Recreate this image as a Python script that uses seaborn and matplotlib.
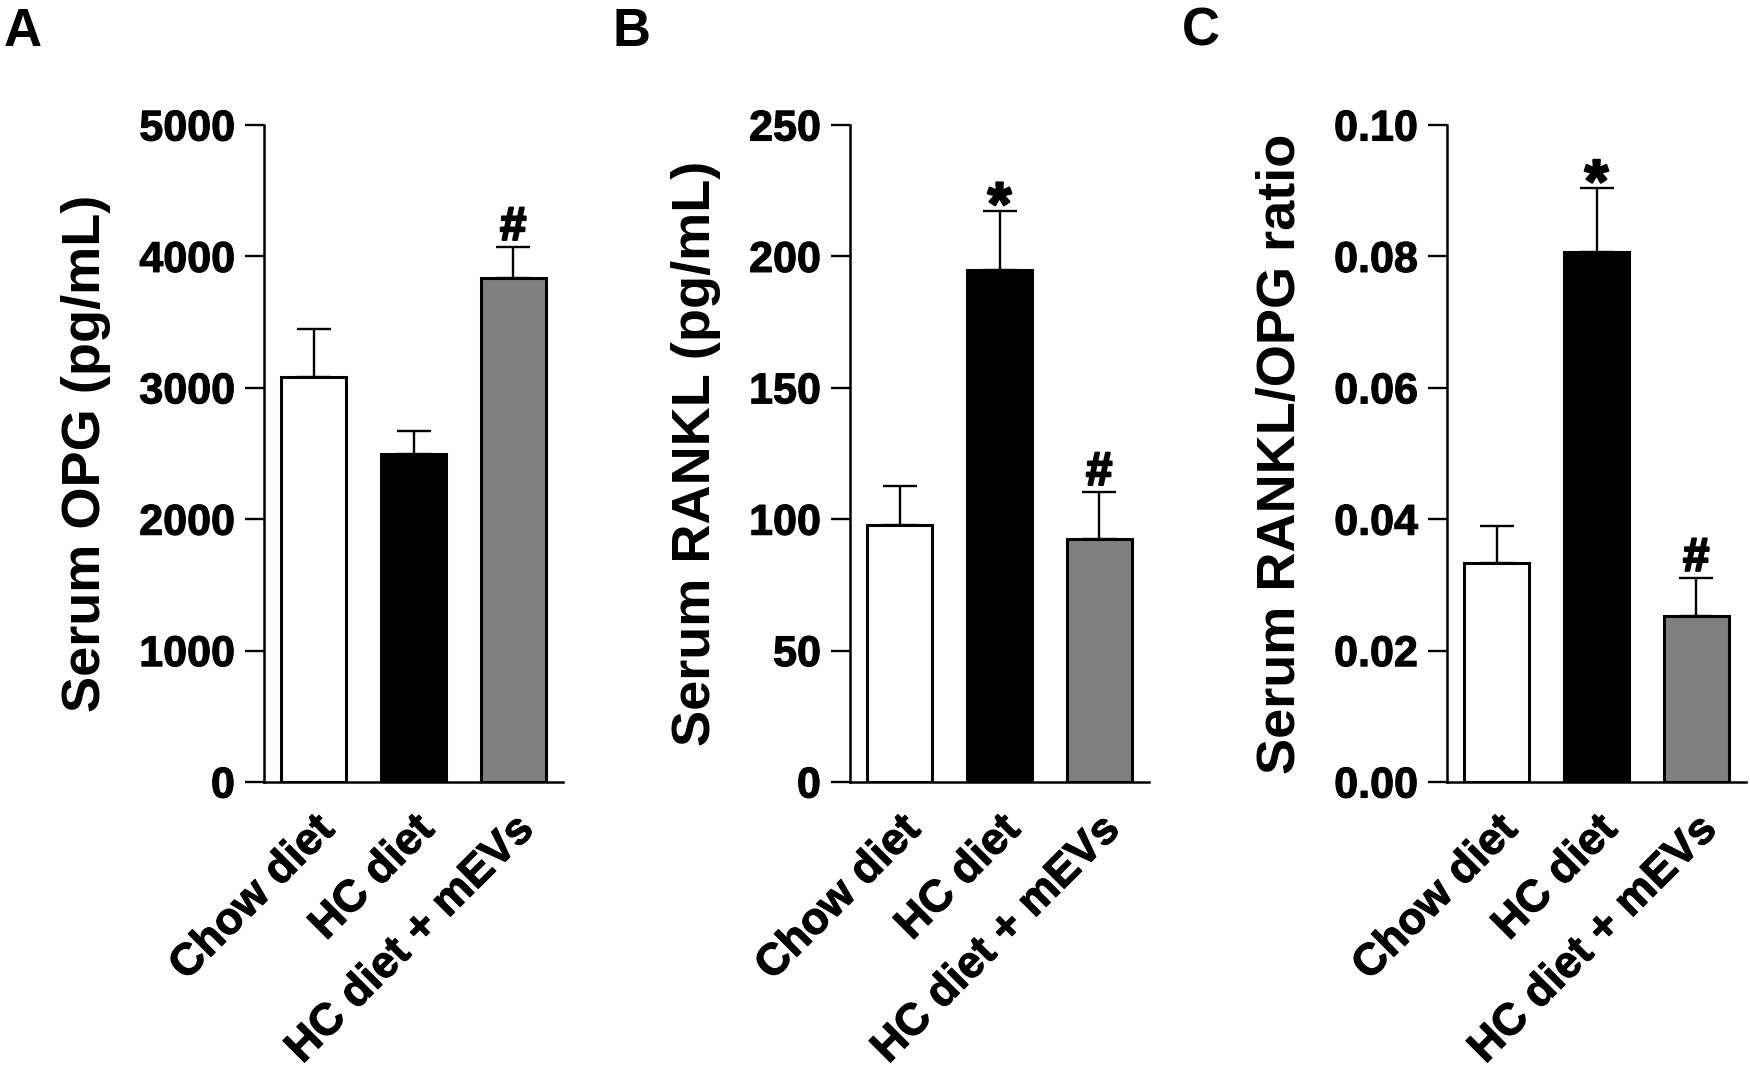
"""
Serum OPG, RANKL and the RANKL/OPG ratio for the three diet groups.

"""
import seaborn as sns
import matplotlib.pyplot as plt
import matplotlib.transforms as mtransforms
import matplotlib.patheffects as pe
import pandas as pd

GROUPS = ['Chow diet', 'HC diet', 'HC diet + mEVs']
COLOURS = ['#ffffff', '#000000', '#808080']

OPG_MEAN = [3080, 2495, 3838]
OPG_SEM = [366, 174, 235]
OPG_MARKS = ['', '', '#']
OPG_TICKS = [0, 1000, 2000, 3000, 4000, 5000]

RANKL_MEAN = [97.7, 195.0, 92.6]
RANKL_SEM = [14.9, 22.4, 17.8]
RANKL_MARKS = ['', '*', '#']
RANKL_TICKS = [0, 50, 100, 150, 200, 250]

RATIO_MEAN = [0.0333, 0.0806, 0.0252]
RATIO_SEM = [0.0057, 0.0098, 0.0059]
RATIO_MARKS = ['', '*', '#']
RATIO_TICKS = [0.00, 0.02, 0.04, 0.06, 0.08, 0.10]


def plot_panel(ax, means, sems, marks, ticks, fmt, y_label):
    """
    Draw one bar panel with upward error bars and significance marks.

    """
    data = pd.DataFrame({'group': GROUPS, 'value': means})
    sns.barplot(data=data, x='group', y='value', hue='group', palette=COLOURS,
                saturation=1, width=0.65, edgecolor='black', linewidth=2.2,
                errorbar=None, legend=False, ax=ax)

    x = list(range(len(GROUPS)))
    ax.errorbar(x, means, yerr=[[0] * len(means), sems], fmt='none',
                ecolor='black', elinewidth=1.7, capsize=12, capthick=1.7)

    heavy = [pe.withStroke(linewidth=1.6, foreground='black')]
    for i, mark in enumerate(marks):
        if not mark:
            continue
        offset = 5 if mark == '#' else -10
        size = 34 if mark == '#' else 44
        ax.annotate(mark, xy=(i, means[i] + sems[i]), xytext=(0, offset),
                    textcoords='offset points', ha='center', va='baseline',
                    fontsize=size, fontweight='bold', annotation_clip=False,
                    path_effects=heavy)

    ax.set_xlim(-0.5, 2.5)
    ax.set_ylim(ticks[0], ticks[-1])
    ax.set_yticks(ticks, [fmt.format(t) for t in ticks])
    ax.set_xticks(x, GROUPS, rotation=45, ha='right', rotation_mode='anchor')
    shift = mtransforms.ScaledTranslation(10 / 100, 0, ax.figure.dpi_scale_trans)
    for label in ax.get_xticklabels():
        label.set_transform(label.get_transform() + shift)
        label.set_path_effects([pe.withStroke(linewidth=0.8, foreground='black')])
    for label in ax.get_yticklabels():
        label.set_path_effects([pe.withStroke(linewidth=0.8, foreground='black')])

    ax.set_xlabel('')
    ax.set_ylabel(y_label, fontsize=39, fontweight='bold', labelpad=20)
    ax.tick_params(axis='y', length=14, width=1.7, pad=7, labelsize=31,
                   color='black', labelcolor='black')
    ax.tick_params(axis='x', length=0, pad=19, labelsize=32,
                   labelcolor='black')
    for side in ['left', 'bottom']:
        ax.spines[side].set_linewidth(1.8)
        ax.spines[side].set_color('black')
    sns.despine(ax=ax)


if __name__ == '__main__':

    sns.set_style('ticks')
    plt.rcParams['font.family'] = ['Liberation Sans', 'DejaVu Sans']
    plt.rcParams['font.weight'] = 'bold'
    plt.rcParams['text.color'] = 'black'
    plt.rcParams['axes.labelcolor'] = 'black'

    fig = plt.figure(figsize=(17.5, 10.69), dpi=100)

    bottom = 1 - 782 / 1069
    height = (782 - 125) / 1069
    ax_a = fig.add_axes([264 / 1750, bottom, 299 / 1750, height])
    ax_b = fig.add_axes([850 / 1750, bottom, 299 / 1750, height])
    ax_c = fig.add_axes([1447 / 1750, bottom, 299 / 1750, height])

    plot_panel(ax_a, OPG_MEAN, OPG_SEM, OPG_MARKS, OPG_TICKS, '{:d}',
               'Serum OPG (pg/mL)')
    plot_panel(ax_b, RANKL_MEAN, RANKL_SEM, RANKL_MARKS, RANKL_TICKS, '{:d}',
               'Serum RANKL (pg/mL)')
    plot_panel(ax_c, RATIO_MEAN, RATIO_SEM, RATIO_MARKS, RATIO_TICKS, '{:.2f}',
               'Serum RANKL/OPG ratio')

    for letter, xpos in zip(['A', 'B', 'C'], [4, 612, 1182]):
        fig.text(xpos / 1750, 1 - 46 / 1069, letter, fontsize=38,
                 fontweight='bold', va='baseline', ha='left')

    fig.savefig('out.png', dpi=100)
